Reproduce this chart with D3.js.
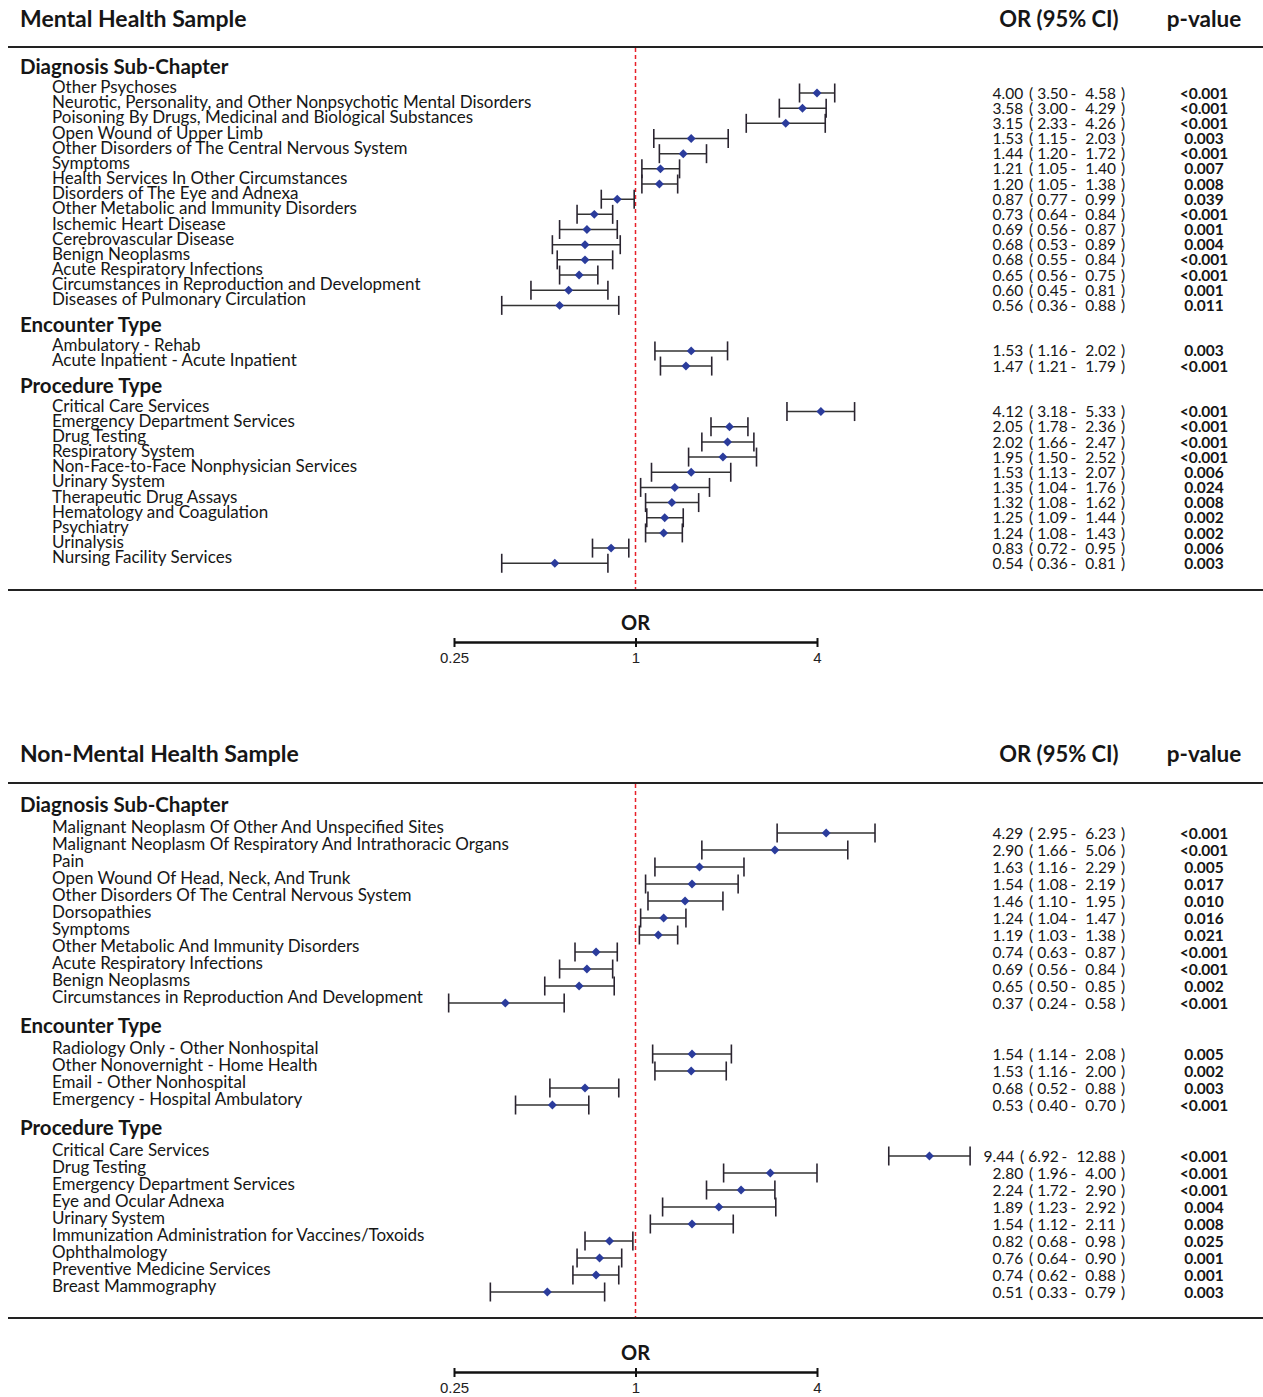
<!DOCTYPE html>
<html>
<head>
<meta charset="utf-8">
<script src="https://cdn.jsdelivr.net/npm/d3@7"></script>
<style>
  body { margin: 0; background: #fff; }
  svg { display: block; }
</style>
</head>
<body>
<svg></svg>
<script>
const WIDTH = 1263
const HEIGHT = 1397

const sectionNames = ['Diagnosis Sub-Chapter', 'Encounter Type', 'Procedure Type']
const axisTicks = [0.25, 1, 4]

// Mental Health Sample
const mhCounts = [15, 2, 11]
const mhLabels = [
  'Other Psychoses',
  'Neurotic, Personality, and Other Nonpsychotic Mental Disorders',
  'Poisoning By Drugs, Medicinal and Biological Substances',
  'Open Wound of Upper Limb',
  'Other Disorders of The Central Nervous System',
  'Symptoms',
  'Health Services In Other Circumstances',
  'Disorders of The Eye and Adnexa',
  'Other Metabolic and Immunity Disorders',
  'Ischemic Heart Disease',
  'Cerebrovascular Disease',
  'Benign Neoplasms',
  'Acute Respiratory Infections',
  'Circumstances in Reproduction and Development',
  'Diseases of Pulmonary Circulation',
  'Ambulatory - Rehab',
  'Acute Inpatient - Acute Inpatient',
  'Critical Care Services',
  'Emergency Department Services',
  'Drug Testing',
  'Respiratory System',
  'Non-Face-to-Face Nonphysician Services',
  'Urinary System',
  'Therapeutic Drug Assays',
  'Hematology and Coagulation',
  'Psychiatry',
  'Urinalysis',
  'Nursing Facility Services'
]
const mhOR = [4.00, 3.58, 3.15, 1.53, 1.44, 1.21, 1.20, 0.87, 0.73, 0.69, 0.68, 0.68, 0.65, 0.60, 0.56,
  1.53, 1.47,
  4.12, 2.05, 2.02, 1.95, 1.53, 1.35, 1.32, 1.25, 1.24, 0.83, 0.54]
const mhLower = [3.50, 3.00, 2.33, 1.15, 1.20, 1.05, 1.05, 0.77, 0.64, 0.56, 0.53, 0.55, 0.56, 0.45, 0.36,
  1.16, 1.21,
  3.18, 1.78, 1.66, 1.50, 1.13, 1.04, 1.08, 1.09, 1.08, 0.72, 0.36]
const mhUpper = [4.58, 4.29, 4.26, 2.03, 1.72, 1.40, 1.38, 0.99, 0.84, 0.87, 0.89, 0.84, 0.75, 0.81, 0.88,
  2.02, 1.79,
  5.33, 2.36, 2.47, 2.52, 2.07, 1.76, 1.62, 1.44, 1.43, 0.95, 0.81]
const mhP = ['<0.001', '<0.001', '<0.001', '0.003', '<0.001', '0.007', '0.008', '0.039', '<0.001', '0.001',
  '0.004', '<0.001', '<0.001', '0.001', '0.011',
  '0.003', '<0.001',
  '<0.001', '<0.001', '<0.001', '<0.001', '0.006', '0.024', '0.008', '0.002', '0.002', '0.006', '0.003']

// Non-Mental Health Sample
const nmhCounts = [11, 4, 9]
const nmhLabels = [
  'Malignant Neoplasm Of Other And Unspecified Sites',
  'Malignant Neoplasm Of Respiratory And Intrathoracic Organs',
  'Pain',
  'Open Wound Of Head, Neck, And Trunk',
  'Other Disorders Of The Central Nervous System',
  'Dorsopathies',
  'Symptoms',
  'Other Metabolic And Immunity Disorders',
  'Acute Respiratory Infections',
  'Benign Neoplasms',
  'Circumstances in Reproduction And Development',
  'Radiology Only - Other Nonhospital',
  'Other Nonovernight - Home Health',
  'Email - Other Nonhospital',
  'Emergency - Hospital Ambulatory',
  'Critical Care Services',
  'Drug Testing',
  'Emergency Department Services',
  'Eye and Ocular Adnexa',
  'Urinary System',
  'Immunization Administration for Vaccines/Toxoids',
  'Ophthalmology',
  'Preventive Medicine Services',
  'Breast Mammography'
]
const nmhOR = [4.29, 2.90, 1.63, 1.54, 1.46, 1.24, 1.19, 0.74, 0.69, 0.65, 0.37,
  1.54, 1.53, 0.68, 0.53,
  9.44, 2.80, 2.24, 1.89, 1.54, 0.82, 0.76, 0.74, 0.51]
const nmhLower = [2.95, 1.66, 1.16, 1.08, 1.10, 1.04, 1.03, 0.63, 0.56, 0.50, 0.24,
  1.14, 1.16, 0.52, 0.40,
  6.92, 1.96, 1.72, 1.23, 1.12, 0.68, 0.64, 0.62, 0.33]
const nmhUpper = [6.23, 5.06, 2.29, 2.19, 1.95, 1.47, 1.38, 0.87, 0.84, 0.85, 0.58,
  2.08, 2.00, 0.88, 0.70,
  12.88, 4.00, 2.90, 2.92, 2.11, 0.98, 0.90, 0.88, 0.79]
const nmhP = ['<0.001', '<0.001', '0.005', '0.017', '0.010', '0.016', '0.021', '<0.001', '<0.001', '0.002', '<0.001',
  '0.005', '0.002', '0.003', '<0.001',
  '<0.001', '<0.001', '<0.001', '0.004', '0.008', '0.025', '0.001', '0.001', '0.003']

const FONT = 'Lato, "Open Sans", sans-serif'
const INK = '#161616'

const svg = d3.select('svg')
  .attr('width', WIDTH)
  .attr('height', HEIGHT)
  .attr('viewBox', `0 0 ${WIDTH} ${HEIGHT}`)

const x = d3.scaleLog().base(2)
  .domain([0.25, 4])
  .range([454, 817])

function boldText(sel, px, y, size, anchor, txt) {
  return sel.append('text')
    .attr('x', px)
    .attr('y', y)
    .attr('text-anchor', anchor)
    .attr('font-family', FONT)
    .attr('font-weight', 700)
    .attr('font-size', size)
    .attr('fill', INK)
    .text(txt)
}

function drawPanel(cfg) {
  const g = svg.append('g')

  // build rows: each section starts 3 row steps after the previous one ends
  const rows = []
  const heads = []
  let idx = 0
  let k = 0
  cfg.counts.forEach((n, s) => {
    heads.push({ name: sectionNames[s], idx })
    for (let i = 0; i < n; i++, k++, idx++) {
      rows.push({
        label: cfg.labels[k], or: cfg.or[k], lo: cfg.lower[k], hi: cfg.upper[k], p: cfg.p[k], idx
      })
    }
    idx += 2
  })

  const y = d3.scaleLinear()
    .domain([0, 1])
    .range([cfg.firstRow, cfg.firstRow + cfg.step])

  boldText(g, 20, cfg.titleY, 23, 'start', cfg.title)
  boldText(g, 1059, cfg.titleY, 22, 'middle', 'OR (95% CI)')
  boldText(g, 1204, cfg.titleY, 22.5, 'middle', 'p-value')

  g.selectAll('line.rule')
    .data([cfg.lineTop, cfg.lineBottom])
    .enter()
    .append('line')
    .attr('class', 'rule')
    .attr('x1', 8)
    .attr('x2', WIDTH)
    .attr('y1', d => d)
    .attr('y2', d => d)
    .attr('stroke', '#222')
    .attr('stroke-width', 2)

  g.append('line')
    .attr('x1', x(1))
    .attr('x2', x(1))
    .attr('y1', cfg.lineTop + 1)
    .attr('y2', cfg.lineBottom - 1)
    .attr('stroke', '#e8202a')
    .attr('stroke-width', 1.5)
    .attr('stroke-dasharray', '4,3')

  g.selectAll('text.section')
    .data(heads)
    .enter()
    .append('text')
    .attr('class', 'section')
    .attr('x', 20)
    .attr('y', d => y(d.idx - 1.25))
    .attr('font-family', FONT)
    .attr('font-weight', 700)
    .attr('font-size', 20.5)
    .attr('fill', INK)
    .text(d => d.name)

  const row = g.selectAll('g.row')
    .data(rows)
    .enter()
    .append('g')
    .attr('class', 'row')
    .attr('transform', d => `translate(0, ${y(d.idx)})`)

  row.append('text')
    .attr('x', 52)
    .attr('y', 0)
    .attr('font-family', FONT)
    .attr('font-size', 17)
    .attr('fill', INK)
    .text(d => d.label)

  row.append('line')
    .attr('x1', d => x(d.lo))
    .attr('x2', d => x(d.hi))
    .attr('stroke', '#333')
    .attr('stroke-width', 1.5)

  row.selectAll('line.cap')
    .data(d => [d.lo, d.hi])
    .enter()
    .append('line')
    .attr('class', 'cap')
    .attr('x1', d => x(d))
    .attr('x2', d => x(d))
    .attr('y1', -9.5)
    .attr('y2', 9.5)
    .attr('stroke', '#2a2430')
    .attr('stroke-width', 1.6)

  row.append('path')
    .attr('d', d3.symbol(d3.symbolSquare, 40)())
    .attr('transform', d => `translate(${x(d.or)}, 0) rotate(45)`)
    .attr('fill', '#2b3c9c')

  // "OR ( lower - upper )" laid out from the right, like the padded text column
  row.append('g')
    .attr('font-family', FONT)
    .attr('font-size', 15.5)
    .attr('fill', INK)
    .each(function(d) {
      const cell = d3.select(this)
      const put = (px, anchor, txt) => cell.append('text')
        .attr('x', px)
        .attr('dy', '0.36em')
        .attr('text-anchor', anchor)
        .text(txt)
      put(1121, 'start', ')')
      const hi = put(1116, 'end', d.hi.toFixed(2))
      const dashX = 1116 - hi.node().getComputedTextLength() - 12
      put(dashX, 'middle', '-')
      const lo = put(dashX - 5.5, 'end', d.lo.toFixed(2))
      const loStart = dashX - 5.5 - lo.node().getComputedTextLength()
      put(loStart - 4, 'end', '(')
      put(loStart - 14, 'end', d.or.toFixed(2))
    })

  row.append('text')
    .attr('x', 1204)
    .attr('dy', '0.36em')
    .attr('text-anchor', 'middle')
    .attr('font-family', FONT)
    .attr('font-weight', 700)
    .attr('font-size', 15.5)
    .attr('fill', INK)
    .text(d => d.p)

  // OR axis below the panel
  boldText(g, x(1), cfg.axisY - 12, 20, 'middle', 'OR')

  const axis = d3.axisBottom(x)
    .tickValues(axisTicks)
    .tickFormat(d3.format(''))
    .tickSize(5)
    .tickSizeOuter(0)
    .tickPadding(5)

  const axisG = g.append('g')
    .attr('transform', `translate(0, ${cfg.axisY})`)
    .call(axis)

  axisG.select('.domain')
    .attr('stroke', '#111')
    .attr('stroke-width', 2.5)
  axisG.selectAll('.tick line')
    .attr('y1', -4)
    .attr('stroke', '#111')
    .attr('stroke-width', 2)
  axisG.selectAll('.tick text')
    .attr('font-family', '"Liberation Sans", Arial, sans-serif')
    .attr('font-size', 15)
    .attr('fill', '#222')
}

drawPanel({
  title: 'Mental Health Sample',
  counts: mhCounts, labels: mhLabels, or: mhOR, lower: mhLower, upper: mhUpper, p: mhP,
  titleY: 27, lineTop: 47, firstRow: 93, step: 15.17, lineBottom: 590, axisY: 642
})

drawPanel({
  title: 'Non-Mental Health Sample',
  counts: nmhCounts, labels: nmhLabels, or: nmhOR, lower: nmhLower, upper: nmhUpper, p: nmhP,
  titleY: 762, lineTop: 783, firstRow: 833, step: 17.0, lineBottom: 1318, axisY: 1372
})
</script>
</body>
</html>
